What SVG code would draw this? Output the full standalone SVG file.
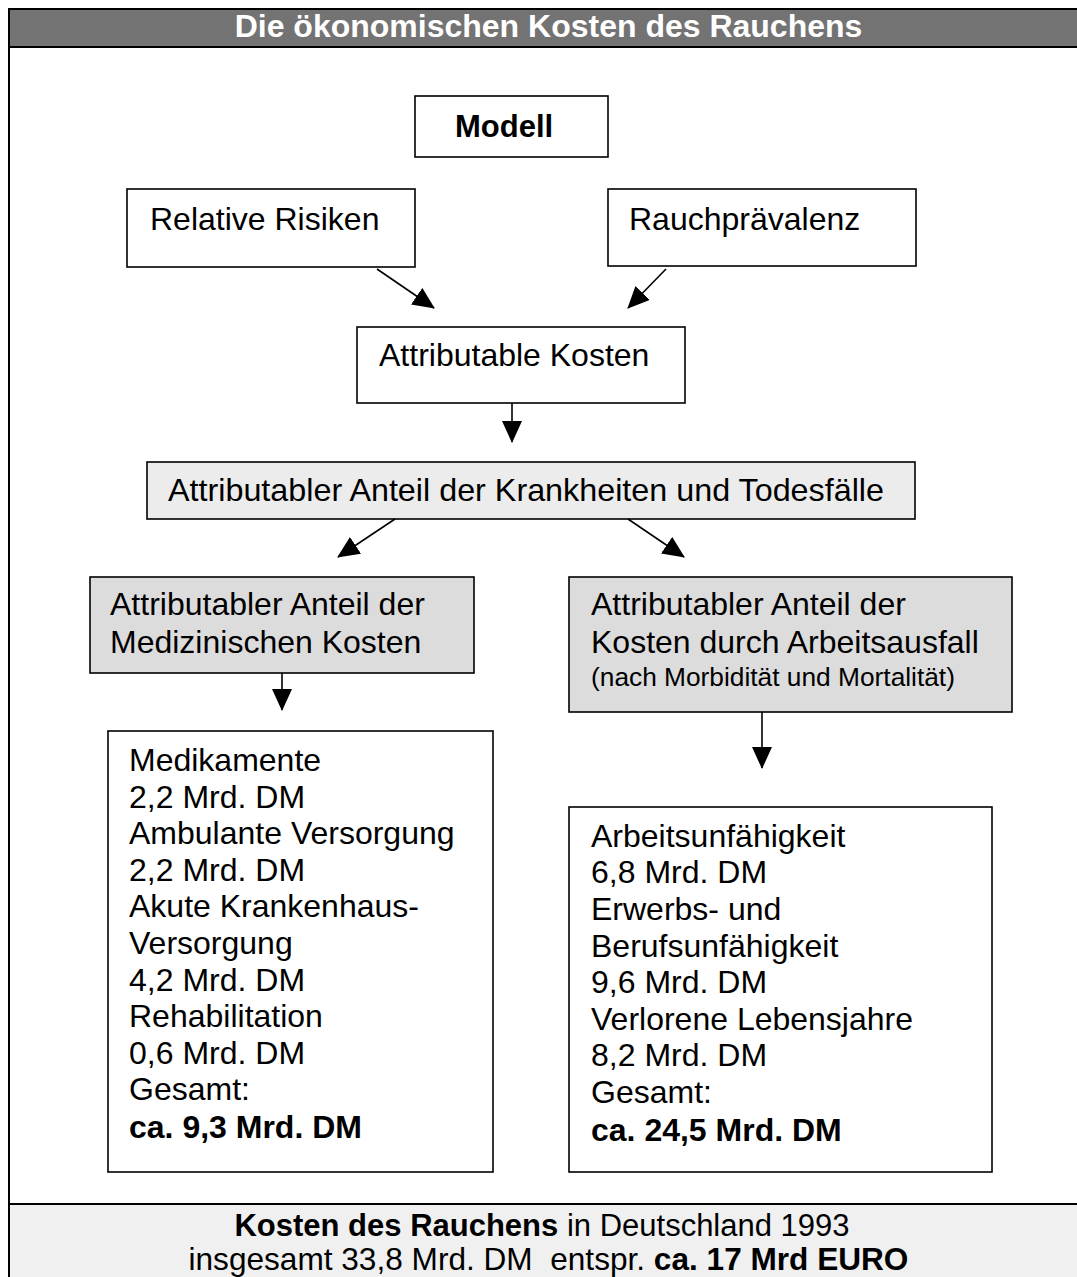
<svg xmlns="http://www.w3.org/2000/svg" width="1077" height="1277" viewBox="0 0 1077 1277">
<style>
text{font-family:"Liberation Sans",Arial,sans-serif;fill:#000}
.t{font-size:32px}
.b{font-weight:bold}
.s{font-size:26.3px}
.box{fill:#fff;stroke:#000;stroke-width:1.6}
.g1{fill:#ececec;stroke:#000;stroke-width:1.6}
.g2{fill:#dcdcdc;stroke:#000;stroke-width:1.6}
.c line{stroke:#000;stroke-width:1.6;marker-end:url(#ah)}
</style>
<defs>
<marker id="ah" viewBox="0 0 22 20" refX="21" refY="10" markerWidth="22" markerHeight="20" orient="auto" markerUnits="userSpaceOnUse">
<path d="M0,0 L22,10 L0,20 Z" fill="#000"/>
</marker>
</defs>
<rect x="0" y="0" width="1077" height="1277" fill="#fff"/>
<g id="frame">
<rect x="10" y="10" width="1067" height="37" fill="#737373"/>
<rect x="10" y="1205" width="1067" height="72" fill="#f0f0f0"/>
<line x1="8" y1="9" x2="1077" y2="9" stroke="#000" stroke-width="2"/>
<line x1="9" y1="8" x2="9" y2="1277" stroke="#000" stroke-width="2"/>
<line x1="8" y1="47" x2="1077" y2="47" stroke="#000" stroke-width="2"/>
<line x1="8" y1="1204" x2="1077" y2="1204" stroke="#000" stroke-width="2"/>
</g>
<g id="title"><text x="548.5" y="37" text-anchor="middle" class="b" font-size="32" style="fill:#fff">Die ökonomischen Kosten des Rauchens</text></g>
<g id="modell"><rect class="box" x="415" y="96" width="193" height="61"/><text x="455" y="137" class="b" font-size="31">Modell</text></g>
<g id="risiken"><rect class="box" x="127" y="189" width="288" height="78"/><text x="150" y="230" class="t">Relative Risiken</text></g>
<g id="praevalenz"><rect class="box" x="608" y="189" width="308" height="77"/><text x="629" y="230" class="t">Rauchprävalenz</text></g>
<g id="kosten"><rect class="box" x="357" y="327" width="328" height="76"/><text x="379" y="366" class="t">Attributable Kosten</text></g>
<g id="krankheiten"><rect class="g1" x="147" y="462" width="768" height="57"/><text x="168" y="501" class="t" textLength="716" lengthAdjust="spacingAndGlyphs">Attributabler Anteil der Krankheiten und Todesfälle</text></g>
<g id="medizin"><rect class="g2" x="90" y="577" width="384" height="96"/><text class="t"><tspan x="110" y="615">Attributabler Anteil der</tspan><tspan x="110" y="653">Medizinischen Kosten</tspan></text></g>
<g id="arbeit"><rect class="g2" x="569" y="577" width="443" height="135"/><text class="t"><tspan x="591" y="615">Attributabler Anteil der</tspan><tspan x="591" y="653">Kosten durch Arbeitsausfall</tspan></text><text x="591" y="686" class="s">(nach Morbidität und Mortalität)</text></g>
<g id="medliste"><rect class="box" x="108" y="731" width="385" height="441"/>
<text class="t"><tspan x="129" y="771">Medikamente</tspan><tspan x="129" y="807.6">2,2 Mrd. DM</tspan><tspan x="129" y="844.2">Ambulante Versorgung</tspan><tspan x="129" y="880.8">2,2 Mrd. DM</tspan><tspan x="129" y="917.4">Akute Krankenhaus-</tspan><tspan x="129" y="954">Versorgung</tspan><tspan x="129" y="990.6">4,2 Mrd. DM</tspan><tspan x="129" y="1027.2">Rehabilitation</tspan><tspan x="129" y="1063.8">0,6 Mrd. DM</tspan><tspan x="129" y="1100.4">Gesamt:</tspan><tspan x="129" y="1138" class="b">ca. 9,3 Mrd. DM</tspan></text></g>
<g id="arbliste"><rect class="box" x="569" y="807" width="423" height="365"/>
<text class="t"><tspan x="591" y="846.7">Arbeitsunfähigkeit</tspan><tspan x="591" y="883.3">6,8 Mrd. DM</tspan><tspan x="591" y="919.9">Erwerbs- und</tspan><tspan x="591" y="956.5">Berufsunfähigkeit</tspan><tspan x="591" y="993.1">9,6 Mrd. DM</tspan><tspan x="591" y="1029.7">Verlorene Lebensjahre</tspan><tspan x="591" y="1066.3">8,2 Mrd. DM</tspan><tspan x="591" y="1102.9">Gesamt:</tspan><tspan x="591" y="1141" class="b">ca. 24,5 Mrd. DM</tspan></text></g>
<g id="footer"><text x="542" y="1236" text-anchor="middle" font-size="31"><tspan class="b">Kosten des Rauchens</tspan> in Deutschland 1993</text>
<text x="548.5" y="1270" text-anchor="middle" font-size="31.6" xml:space="preserve">insgesamt 33,8 Mrd. DM  entspr. <tspan class="b">ca. 17 Mrd EURO</tspan></text></g>
<g id="connectors" class="c">
<line x1="377" y1="269" x2="434" y2="308"/>
<line x1="666" y1="269" x2="628" y2="308"/>
<line x1="512" y1="403" x2="512" y2="442"/>
<line x1="395" y1="519" x2="338" y2="557"/>
<line x1="628" y1="519" x2="684" y2="557"/>
<line x1="282" y1="673" x2="282" y2="710"/>
<line x1="762" y1="712" x2="762" y2="768"/>
</g>
</svg>
